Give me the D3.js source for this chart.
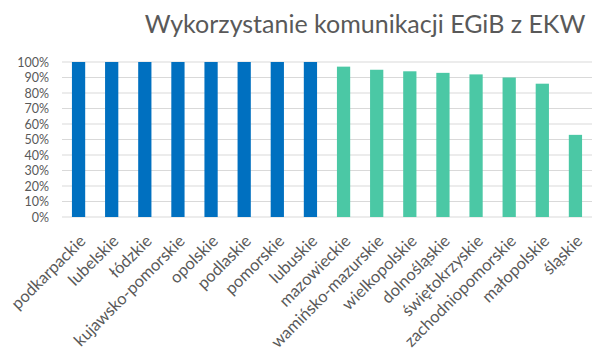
<!DOCTYPE html>
<html><head><meta charset="utf-8">
<script src="https://cdn.jsdelivr.net/npm/d3@7"></script>
<style>body{margin:0;background:#fff}svg{display:block}</style>
</head><body>
<script>
const title = "Wykorzystanie komunikacji EGiB z EKW";
const categories = ["podkarpackie","lubelskie","łódzkie","kujawsko-pomorskie","opolskie","podlaskie","pomorskie","lubuskie","mazowieckie","wamińsko-mazurskie","wielkopolskie","dolnośląskie","świętokrzyskie","zachodniopomorskie","małopolskie","śląskie"];
const values = [1,1,1,1,1,1,1,1,0.97,0.95,0.94,0.93,0.92,0.90,0.86,0.53];
const groups = ["a","a","a","a","a","a","a","a","b","b","b","b","b","b","b","b"];
const yTicks = [0,0.1,0.2,0.3,0.4,0.5,0.6,0.7,0.8,0.9,1];

const W=600,H=352;
const m={left:62,right:8,top:62,bottom:135};
const svg=d3.select("body").append("svg").attr("width",W).attr("height",H);
const font="Lato, 'Open Sans', sans-serif";
const gray="#595959";

const x=d3.scaleBand().domain(categories).range([m.left,W-m.right]).paddingInner(0.6).paddingOuter(0.3);
const y=d3.scaleLinear().domain([0,1]).range([H-m.bottom,m.top]);
const color=d3.scaleOrdinal().domain(["a","b"]).range(["#0070C0","#4BC8A5"]);

// gridlines
svg.append("g").selectAll("line").data(yTicks).join("line")
  .attr("x1",m.left).attr("x2",W-m.right)
  .attr("y1",d=>y(d)).attr("y2",d=>y(d))
  .attr("stroke","#d9d9d9").attr("stroke-width",1);

// y axis labels
const yAxis=d3.axisLeft(y).tickValues(yTicks).tickFormat(d3.format(".0%")).tickSize(0).tickPadding(13);
const ga=svg.append("g").attr("transform",`translate(${m.left},0)`).call(yAxis);
ga.select(".domain").remove();
ga.selectAll("text").attr("font-family",font).attr("font-size",12.5).attr("fill",gray);

// bars
svg.append("g").selectAll("rect").data(categories).join("rect")
  .attr("x",d=>x(d)).attr("width",x.bandwidth())
  .attr("y",(d,i)=>y(values[i])).attr("height",(d,i)=>y(0)-y(values[i]))
  .attr("fill",(d,i)=>color(groups[i]));

// x axis labels
const xAxis=d3.axisBottom(x).tickSize(0).tickPadding(0);
const gx=svg.append("g").attr("transform",`translate(0,${y(0)})`).call(xAxis);
gx.select(".domain").remove();
gx.selectAll("text")
  .attr("font-family",font).attr("font-size",16.5).attr("fill",gray)
  .attr("text-anchor","end").attr("dy",0)
  .attr("transform","translate(8,25) rotate(-45)");

// title
svg.append("text").attr("x",365).attr("y",33).attr("text-anchor","middle")
  .attr("font-family",font).attr("font-size",25).attr("fill",gray).text(title);
</script>
</body></html>
